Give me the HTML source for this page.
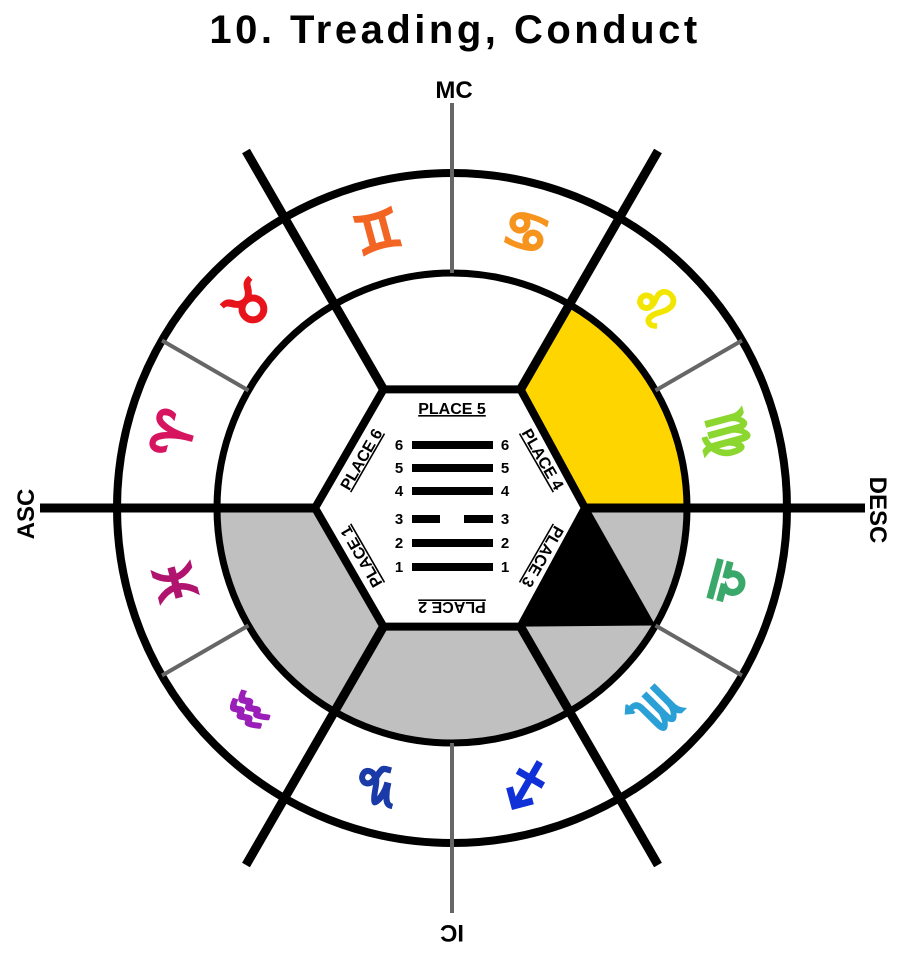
<!DOCTYPE html>
<html><head><meta charset="utf-8"><style>
html,body{margin:0;padding:0;background:#fff}
svg{display:block}
text{font-family:"Liberation Sans",Arial,sans-serif;font-weight:bold}
</style></head><body>
<svg width="900" height="955" viewBox="0 0 900 955" xmlns="http://www.w3.org/2000/svg">
<text x="455" y="43" font-size="40" text-anchor="middle" letter-spacing="3.5">10. Treading, Conduct</text>
<text x="454" y="98" font-size="24" text-anchor="middle">MC</text>
<text transform="translate(34,514) rotate(-90)" font-size="24" text-anchor="middle">ASC</text>
<text transform="translate(870,510) rotate(90)" font-size="24" text-anchor="middle">DESC</text>
<text transform="translate(452,925) rotate(180)" font-size="24" text-anchor="middle">IC</text>

<path d="M585,508 L520.5,389.4 L569.5,304.5 A235,235 0 0 1 687,508 Z" fill="#ffd500"/>
<path d="M217,508 L315,508 L383.5,626.6 L520.5,626.6 L569.5,711.5 A235,235 0 0 1 217,508 Z" fill="#c0c0c0"/>
<path d="M585,508 L687,508 A235,235 0 0 1 569.5,711.5 L520.5,626.6 Z" fill="#c0c0c0"/>
<path d="M589,508 L520.5,626.6 L655.5,625.5 Z" fill="#000"/>

<circle cx="452" cy="508" r="335" fill="none" stroke="#000" stroke-width="8"/>
<circle cx="452" cy="508" r="235" fill="none" stroke="#000" stroke-width="7"/>

<g stroke="#666" stroke-width="4">
<line x1="452" y1="103" x2="452" y2="273"/>
<line x1="452" y1="743" x2="452" y2="913"/>
<line x1="655.5" y1="390.5" x2="742" y2="340.5"/>
<line x1="248.5" y1="390.5" x2="162" y2="340.5"/>
<line x1="248.5" y1="625.5" x2="162" y2="675.5"/>
<line x1="655.5" y1="625.5" x2="742" y2="675.5"/>
</g>

<g stroke="#000" stroke-width="9">
<line x1="40" y1="508" x2="315" y2="508"/>
<line x1="585" y1="508" x2="865" y2="508"/>
<line x1="520.5" y1="389.4" x2="658" y2="151"/>
<line x1="383.5" y1="389.4" x2="246" y2="151"/>
<line x1="383.5" y1="626.6" x2="246" y2="865"/>
<line x1="520.5" y1="626.6" x2="658" y2="865"/>
</g>
<polygon points="585,508 520.5,389.4 383.5,389.4 315,508 383.5,626.6 520.5,626.6" fill="none" stroke="#000" stroke-width="8" stroke-linejoin="round"/>

<g fill="#000">
<rect x="412" y="441" width="81" height="8"/>
<rect x="412" y="464" width="81" height="8"/>
<rect x="412" y="487" width="81" height="8"/>
<rect x="412" y="515" width="28" height="8"/>
<rect x="464" y="515" width="29" height="8"/>
<rect x="412" y="539" width="81" height="8"/>
<rect x="412" y="563" width="81" height="8"/>
</g>
<g font-size="15" text-anchor="middle">
<text x="399" y="450">6</text><text x="505" y="450">6</text>
<text x="399" y="473">5</text><text x="505" y="473">5</text>
<text x="399" y="496">4</text><text x="505" y="496">4</text>
<text x="399" y="524">3</text><text x="505" y="524">3</text>
<text x="399" y="548">2</text><text x="505" y="548">2</text>
<text x="399" y="572">1</text><text x="505" y="572">1</text>
</g>
<g font-size="16" text-anchor="middle" text-decoration="underline">
<text transform="translate(452,414)">PLACE 5</text>
<text transform="translate(366,462) rotate(-60)">PLACE 6</text>
<text transform="translate(538,462) rotate(60)">PLACE 4</text>
<text transform="translate(366,554) rotate(-120)">PLACE 1</text>
<text transform="translate(538,554) rotate(120)">PLACE 3</text>
<text transform="translate(452,602) rotate(180)">PLACE 2</text>
</g>

<g font-family="DejaVu Sans,sans-serif" font-size="52" text-anchor="middle" dominant-baseline="central" font-weight="bold" stroke-width="1.5">
<text transform="translate(175,434) rotate(-75)" fill="#d6145f" stroke="#d6145f">♈︎</text>
<text transform="translate(250,306) rotate(-45)" fill="#e8141c" stroke="#e8141c">♉︎</text>
<text transform="translate(378,233) rotate(-15)" fill="#f26522" stroke="#f26522">♊︎</text>
<text transform="translate(526,233) rotate(15)" fill="#f7941d" stroke="#f7941d">♋︎</text>
<text transform="translate(654,306) rotate(45)" fill="#f2e600" stroke="#f2e600">♌︎</text>
<text transform="translate(727,434) rotate(75)" fill="#8cd630" stroke="#8cd630">♍︎</text>
<text transform="translate(727,582) rotate(105)" fill="#3aa86a" stroke="#3aa86a">♎︎</text>
<text transform="translate(654,710) rotate(135)" fill="#2aa0d6" stroke="#2aa0d6">♏︎</text>
<text transform="translate(526,783) rotate(165)" fill="#1030d8" stroke="#1030d8">♐︎</text>
<text transform="translate(378,783) rotate(195)" fill="#1a3aa8" stroke="#1a3aa8">♑︎</text>
<text transform="translate(250,710) rotate(225)" fill="#9a1fb8" stroke="#9a1fb8">♒︎</text>
<text transform="translate(177,582) rotate(255)" fill="#b0146e" stroke="#b0146e">♓︎</text>
</g>
</svg>
</body></html>
